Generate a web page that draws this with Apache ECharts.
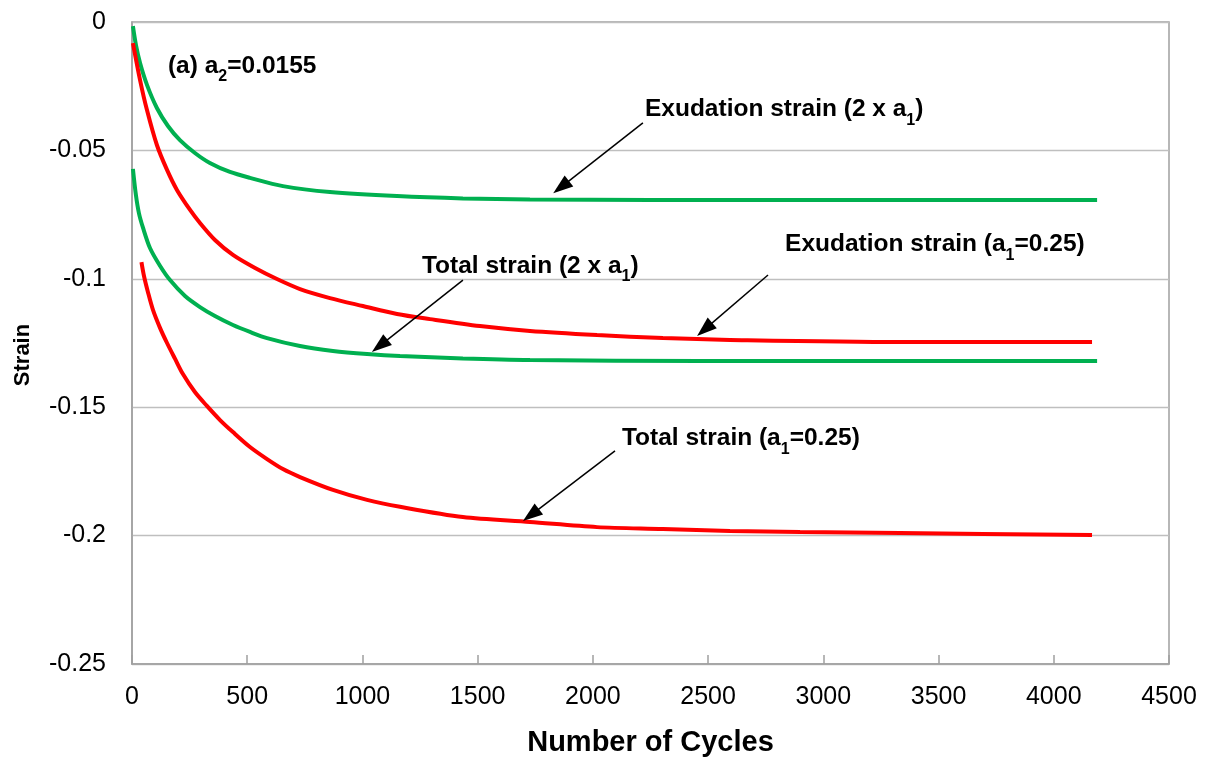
<!DOCTYPE html>
<html>
<head>
<meta charset="utf-8">
<script src="https://cdn.jsdelivr.net/npm/echarts@6/dist/echarts.min.js"></script>
<style>
html, body { margin: 0; padding: 0; background: #fff; }
#main { width: 1210px; height: 763px; }
</style>
</head>
<body>
<div id="main"></div>
<script>
// Exudation strain (2 x a1) - green, top
var exud2Cycles = [4, 17, 35, 65, 108, 156, 208, 273, 338, 425, 512, 655, 859, 1150, 1436, 1727, 2248, 4188];
var exud2Strain = [-0.0016, -0.0089, -0.016, -0.0245, -0.0335, -0.0405, -0.046, -0.051, -0.0549, -0.0584, -0.0607, -0.0639, -0.0662, -0.0678, -0.0687, -0.0691, -0.0693, -0.0693];

// Exudation strain (a1=0.25) - red
var exud1Cycles = [4, 35, 65, 108, 152, 195, 252, 295, 360, 438, 534, 629, 729, 859, 1002, 1150, 1293, 1510, 1727, 2018, 2304, 2595, 3333, 4166];
var exud1Strain = [-0.0082, -0.0226, -0.0343, -0.0479, -0.0576, -0.0654, -0.0732, -0.0783, -0.0849, -0.0907, -0.0958, -0.1001, -0.104, -0.1075, -0.1106, -0.1137, -0.1157, -0.1184, -0.1203, -0.1219, -0.1231, -0.1238, -0.1246, -0.1246];

// Total strain (2 x a1) - green
var total2Cycles = [4, 17, 30, 48, 78, 122, 165, 230, 295, 360, 438, 512, 586, 729, 872, 1020, 1163, 1436, 1727, 2465, 4188];
var total2Strain = [-0.0572, -0.0674, -0.0744, -0.0802, -0.088, -0.095, -0.1005, -0.1067, -0.111, -0.1145, -0.118, -0.1207, -0.1231, -0.1262, -0.1281, -0.1293, -0.1301, -0.131, -0.1316, -0.132, -0.132];

// Total strain (a1=0.25) - red, bottom
var total1Cycles = [41, 52, 69, 91, 122, 152, 187, 221, 273, 325, 382, 438, 512, 586, 655, 729, 872, 1020, 1163, 1436, 1727, 2018, 2304, 2595, 2899, 3333, 4166];
var total1Strain = [-0.0935, -0.0989, -0.1051, -0.1121, -0.1192, -0.125, -0.1312, -0.1371, -0.1441, -0.1495, -0.155, -0.1597, -0.1655, -0.1702, -0.1741, -0.1772, -0.1822, -0.1861, -0.1888, -0.1928, -0.1947, -0.1967, -0.1974, -0.1982, -0.1986, -0.199, -0.1998];

var FONT = 'Liberation Sans';
var GREEN = '#00b050';
var RED = '#ff0000';

function pairs(xs, ys) {
    var out = [];
    for (var i = 0; i < xs.length; i++) {
        out.push([xs[i], ys[i]]);
    }
    return out;
}

// rich text styles for the notes (b = normal bold, s = subscript)
var rich = {
    b: { fontFamily: FONT, fontWeight: 'bold', fontSize: 24.5, color: '#000', lineHeight: 30, verticalAlign: 'top' },
    s: { fontFamily: FONT, fontWeight: 'bold', fontSize: 16, color: '#000', lineHeight: 18, padding: [15, 0, 0, 0], verticalAlign: 'top' }
};

function note(x, y, text) {
    return { coord: [x, y], value: 0, label: { formatter: text } };
}
// the arrow head is centred on the end point, so the end is set a little short of the tip
function arrow(x1, y1, x2, y2) {
    return [{ coord: [x1, y1] }, { coord: [x2, y2] }];
}

function curve(name, color, xs, ys) {
    return {
        name: name,
        type: 'line',
        data: pairs(xs, ys),
        smooth: 0.3,
        showSymbol: false,
        symbol: 'none',
        lineStyle: { color: color, width: 4 },
        itemStyle: { color: color },
        z: 3
    };
}

var series = [
    curve('Exudation strain (2 x a1)', GREEN, exud2Cycles, exud2Strain),
    curve('Exudation strain (a1=0.25)', RED, exud1Cycles, exud1Strain),
    curve('Total strain (2 x a1)', GREEN, total2Cycles, total2Strain),
    curve('Total strain (a1=0.25)', RED, total1Cycles, total1Strain)
];

series[0].markPoint = {
    symbol: 'circle',
    symbolSize: 0,
    silent: true,
    label: { show: true, position: 'right', distance: 0, rich: rich },
    data: [
        note(156, -0.0181, '{b|(a) a}{s|2}{b|=0.0155}'),
        note(2226, -0.0351, '{b|Exudation strain (2 x a}{s|1}{b|)}'),
        note(2834, -0.0877, '{b|Exudation strain (a}{s|1}{b|=0.25)}'),
        note(1258, -0.0962, '{b|Total strain (2 x a}{s|1}{b|)}'),
        note(2126, -0.1632, '{b|Total strain (a}{s|1}{b|=0.25)}')
    ]
};
series[0].markLine = {
    silent: true,
    symbol: ['none', 'triangle'],
    symbolSize: [14, 20],
    label: { show: false },
    lineStyle: { color: '#000', width: 1.5, type: 'solid' },
    data: [
        arrow(2217, -0.0393, 1862, -0.0643),
        arrow(2760, -0.0985, 2485, -0.1197),
        arrow(1436, -0.1005, 1075, -0.1261),
        arrow(2096, -0.167, 1731, -0.192)
    ]
};

var myChart = echarts.init(document.getElementById('main'));
var option = {
    animation: false,
    backgroundColor: '#fff',
    grid: {
        show: true,
        left: 132,
        right: 41,
        top: 22,
        bottom: 99,
        borderColor: '#a0a0a0',
        borderWidth: 1.5
    },
    xAxis: {
        type: 'value',
        min: 0,
        max: 4500,
        interval: 500,
        name: 'Number of Cycles',
        nameLocation: 'middle',
        nameGap: 64,
        nameTextStyle: { fontFamily: FONT, fontWeight: 'bold', fontSize: 29, color: '#000' },
        axisLine: { show: true, onZero: false, lineStyle: { color: '#a0a0a0', width: 1.5 } },
        axisTick: { show: true, inside: true, length: 9, lineStyle: { color: '#a0a0a0', width: 1.5 } },
        splitLine: { show: false },
        axisLabel: {
            fontFamily: FONT, fontSize: 25, color: '#000', margin: 21,
            formatter: function (v) { return String(v); }
        }
    },
    yAxis: {
        type: 'value',
        min: -0.25,
        max: 0,
        interval: 0.05,
        name: 'Strain',
        nameLocation: 'middle',
        nameGap: 98,
        nameTextStyle: { fontFamily: FONT, fontWeight: 'bold', fontSize: 22, color: '#000', padding: [0, 24, 0, 0] },
        axisLine: { show: true, onZero: false, lineStyle: { color: '#a0a0a0', width: 1.5 } },
        axisTick: { show: false },
        splitLine: { show: true, lineStyle: { color: '#bfbfbf', width: 1.3 } },
        axisLabel: {
            fontFamily: FONT, fontSize: 25, color: '#000', margin: 26,
            formatter: function (v) { return String(+v.toFixed(2)); }
        }
    },
    series: series
};
myChart.setOption(option);
</script>
</body>
</html>
